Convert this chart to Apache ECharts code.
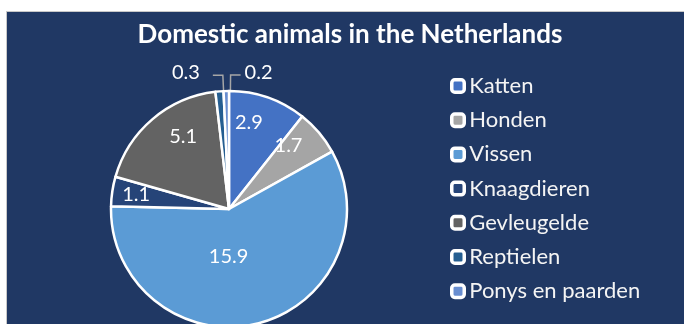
<!DOCTYPE html>
<html>
<head>
<meta charset="utf-8">
<title>Domestic animals in the Netherlands</title>
<script src="https://cdn.jsdelivr.net/npm/echarts@6/dist/echarts.min.js"></script>
<style>
  html, body { margin: 0; padding: 0; background: #ffffff; }
  body { width: 684px; height: 324px; position: relative; overflow: hidden; }
  #frame { position: absolute; left: 6px; top: 11px; width: 678px; height: 313px;
           border-left: 1px solid #c8c8c8; border-top: 1px solid #c8c8c8; }
  #chart { width: 677px; height: 312px; }
</style>
</head>
<body>
<div id="frame"><div id="chart"></div></div>
<script>
// Millions of animals per kind
const categories = ['Katten', 'Honden', 'Vissen', 'Knaagdieren', 'Gevleugelde', 'Reptielen', 'Ponys en paarden'];
const values = [2.9, 1.7, 15.9, 1.1, 5.1, 0.3, 0.2];
const colors = ['#4472C4', '#A5A5A5', '#5B9BD5', '#264478', '#636363', '#255E91', '#698ED0'];

// Which slices carry their value label where
const rimLabels = ['Katten', 'Honden', 'Knaagdieren', 'Gevleugelde'];
const hubLabels = ['Vissen'];
const outerLabels = ['Reptielen', 'Ponys en paarden'];

const NAVY = '#203864';
const FONT = 'Lato';
const CENTER = [222, 197];
const R = 118;

// small hand nudges for label placement (px)
const labelNudge = {
  Katten: [-11, 2],
  Honden: [-12, -3],
  Vissen: [-13, -3],
  Gevleugelde: [15, -1],
  Reptielen: [-6, -3],
  'Ponys en paarden': [-3, -2]
};

const chart = echarts.init(document.getElementById('chart'), null, { renderer: 'canvas' });

const sliceData = categories.map((name, i) => ({ name, value: values[i], itemStyle: { color: colors[i] } }));

function labelled(list) {
  return categories.map((name, i) => ({
    name,
    value: values[i],
    label: { show: list.includes(name) },
    labelLine: { show: list.includes(name) }
  }));
}

function nudge(params) {
  const n = labelNudge[categories[params.dataIndex]];
  return n ? { dx: n[0], dy: n[1] } : {};
}

const valueText = { color: '#ffffff', fontFamily: FONT, fontSize: 20, formatter: '{c}' };
const ghost = { color: 'rgba(0,0,0,0)', borderWidth: 0 };

chart.setOption({
  backgroundColor: NAVY,
  animation: false,
  title: {
    text: 'Domestic animals in the Netherlands',
    left: 343,
    top: 10,
    padding: 0,
    textAlign: 'center',
    textStyle: { color: '#ffffff', fontFamily: FONT, fontWeight: 'bold', fontSize: 26 }
  },
  legend: {
    orient: 'vertical',
    left: 443,
    top: 63,
    padding: 0,
    data: categories,
    icon: 'roundRect',
    itemWidth: 12.5,
    itemHeight: 12.5,
    itemGap: 12.2,
    selectedMode: false,
    itemStyle: { borderColor: '#ffffff', borderWidth: 3.5 },
    textStyle: { color: '#f4f4f4', fontFamily: FONT, fontSize: 22, lineHeight: 20 }
  },
  series: [
    {
      name: 'slices',
      type: 'pie',
      center: CENTER,
      radius: R,
      startAngle: 90,
      clockwise: true,
      silent: true,
      label: { show: false },
      labelLine: { show: false },
      itemStyle: { borderColor: '#ffffff', borderWidth: 2.5 },
      data: sliceData
    },
    {
      // value labels near the rim
      type: 'pie',
      center: CENTER,
      radius: [R * 0.54, R],
      startAngle: 90,
      silent: true,
      itemStyle: ghost,
      label: { position: 'inside', ...valueText },
      labelLayout: nudge,
      data: labelled(rimLabels)
    },
    {
      // value label closer to the hub
      type: 'pie',
      center: CENTER,
      radius: [0, R * 0.84],
      startAngle: 90,
      silent: true,
      itemStyle: ghost,
      label: { position: 'inside', ...valueText },
      labelLayout: nudge,
      data: labelled(hubLabels)
    },
    {
      // callouts for the two thinnest slices
      type: 'pie',
      center: CENTER,
      radius: R,
      startAngle: 88,
      silent: true,
      itemStyle: ghost,
      avoidLabelOverlap: false,
      label: { position: 'outside', alignTo: 'none', ...valueText, padding: [0, 2] },
      labelLine: { length: 16, length2: 10, lineStyle: { color: '#A6A6A6', width: 1.5 } },
      labelLayout: nudge,
      data: labelled(outerLabels)
    }
  ]
});
</script>
</body>
</html>
